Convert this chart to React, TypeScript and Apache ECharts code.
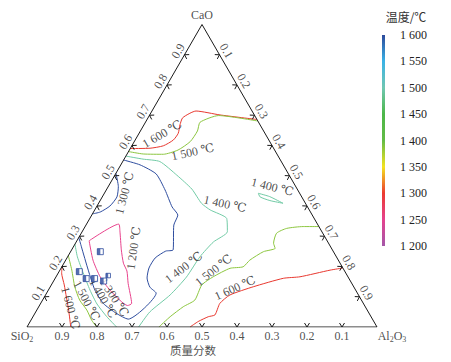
import { useEffect, useRef } from 'react';
import * as echarts from 'echarts';

// Points are [CaO, Al2O3] mass fractions (SiO2 = 1 - CaO - Al2O3)
type TP = [number, number];

const red1600Top: TP[] = [
  [0.59, 0], [0.591, 0.056], [0.599, 0.09], [0.618, 0.109], [0.64, 0.112], [0.668, 0.103],
  [0.692, 0.099], [0.714, 0.126], [0.701, 0.201], [0.686, 0.314],
];
const green1500Top: TP[] = [
  [0.58, 0], [0.572, 0.046], [0.571, 0.104], [0.585, 0.139], [0.613, 0.16], [0.648, 0.163],
  [0.677, 0.156], [0.699, 0.198], [0.681, 0.319],
];
const teal1400Main: TP[] = [
  [0.565, 0], [0.555, 0.054], [0.547, 0.106], [0.502, 0.177], [0.456, 0.243], [0.409, 0.294],
  [0.387, 0.33], [0.359, 0.391], [0.315, 0.415], [0.281, 0.392], [0.232, 0.378], [0.165, 0.373],
  [0.106, 0.356], [0.05, 0.326], [0, 0.319],
];
const blue1300Main: TP[] = [
  [0.552, 0], [0.536, 0.055], [0.506, 0.116], [0.453, 0.168], [0.397, 0.216], [0.37, 0.246],
  [0.337, 0.251], [0.255, 0.29], [0.251, 0.271], [0.228, 0.252], [0.195, 0.251], [0.162, 0.262],
  [0.132, 0.285], [0.112, 0.313], [0.026, 0.276], [0.045, 0.233], [0.078, 0.179], [0.122, 0.133],
  [0.188, 0.081], [0.265, 0.023], [0.296, 0],
];
const blue1300Edge: TP[] = [
  [0.508, 0], [0.464, 0.029], [0.43, 0.042], [0.4, 0.037], [0.38, 0.019], [0.374, 0],
];
const pink1200: TP[] = [
  [0.285, 0.035], [0.34, 0.092], [0.317, 0.107], [0.255, 0.142], [0.211, 0.17], [0.185, 0.193],
  [0.144, 0.217], [0.078, 0.26], [0.071, 0.252], [0.122, 0.176], [0.166, 0.126], [0.221, 0.078],
  [0.285, 0.035],
];
const teal1400Left: TP[] = [
  [0.274, 0], [0.232, 0.028], [0.179, 0.071], [0.122, 0.119], [0.076, 0.162], [0.034, 0.211], [0, 0.256],
];
const green1500Left: TP[] = [
  [0.236, 0], [0.188, 0.034], [0.133, 0.07], [0.089, 0.106], [0.056, 0.143], [0.023, 0.173], [0, 0.199],
];
const red1600Left: TP[] = [
  [0.2, 0], [0.178, 0.01], [0.139, 0.037], [0.099, 0.063], [0.056, 0.091], [0, 0.125],
];
const teal1400Loop: TP[] = [
  [0.442, 0.44], [0.431, 0.478], [0.409, 0.527], [0.418, 0.485], [0.43, 0.451], [0.442, 0.44],
];
const green1500Right: TP[] = [
  [0.332, 0.668], [0.332, 0.623], [0.326, 0.579], [0.31, 0.558], [0.277, 0.566], [0.26, 0.579],
  [0.249, 0.551], [0.221, 0.526], [0.199, 0.518], [0.194, 0.483], [0.166, 0.449], [0.139, 0.43],
  [0.089, 0.435], [0.067, 0.413], [0.034, 0.392], [0, 0.377],
];
const red1600Right: TP[] = [
  [0.195, 0.805], [0.188, 0.772], [0.166, 0.697], [0.161, 0.652], [0.133, 0.58], [0.106, 0.527],
  [0.078, 0.512], [0.04, 0.517], [0.034, 0.501], [0.018, 0.48], [0, 0.466],
];

const contours = [
  { pts: red1600Top, color: '#e8382f' },
  { pts: green1500Top, color: '#8cc63f' },
  { pts: teal1400Main, color: '#72cba6' },
  { pts: blue1300Main, color: '#2e4d9f' },
  { pts: blue1300Edge, color: '#2e4d9f' },
  { pts: pink1200, color: '#e9438d' },
  { pts: teal1400Left, color: '#72cba6' },
  { pts: green1500Left, color: '#8cc63f' },
  { pts: red1600Left, color: '#e8382f' },
  { pts: teal1400Loop, color: '#72cba6' },
  { pts: green1500Right, color: '#8cc63f' },
  { pts: red1600Right, color: '#e8382f' },
];

const labelTexts = ['1 600 ℃', '1 500 ℃', '1 300 ℃', '1 400 ℃', '1 400 ℃', '1 200 ℃', '1 400 ℃', '1 500 ℃', '1 600 ℃', '1 600 ℃', '1 500 ℃', '1 400 ℃', '1 300 ℃'];
const labelAt: TP[] = [
  [0.638, 0.067], [0.579, 0.184], [0.443, 0.057], [0.407, 0.362], [0.463, 0.47], [0.261, 0.174],
  [0.197, 0.349], [0.188, 0.439], [0.129, 0.53], [0.063, 0.093], [0.087, 0.127], [0.095, 0.17], [0.098, 0.2],
];
const labelAngle = [30, 12, 75, -12, -14, 82, 37, 38, 24, -75, -62, -60, -57];

const samples: TP[] = [
  [0.249, 0.085], [0.183, 0.058], [0.16, 0.089], [0.16, 0.113], [0.152, 0.143], [0.17, 0.147],
];
const sampleSize = [6, 6, 6, 6, 6, 4.5];

const edgeTicks = [0.1, 0.2, 0.3, 0.4, 0.5, 0.6, 0.7, 0.8, 0.9];
const tempMin = 1200;
const tempMax = 1600;
const tempStep = 50;
const colorStops = ['#a457a8', '#e5428e', '#ec3b30', '#f3e31f', '#63bb46', '#4cb749', '#70c7b2', '#3ab2e6', '#2d4a9b'];

const PXW = 350;
const PXH = 302.5;
const tern = (c: number, a: number): [number, number] => [a + c / 2, c];
const shift = (p: [number, number], dx: number, dy: number): [number, number] => [p[0] + dx / PXW, p[1] - dy / PXH];

const serif = 'Liberation Serif, DejaVu Serif, serif';
const fmtTemp = (v: number) => String(v).replace(/(\d)(\d{3})$/, '$1 $2');

function chevron(p: [number, number], n: [number, number], t: [number, number]) {
  const L = 4, W = 2.5;
  return {
    coords: [
      shift(p, n[0] * L + t[0] * W, n[1] * L + t[1] * W),
      p,
      shift(p, n[0] * L - t[0] * W, n[1] * L - t[1] * W),
    ],
  };
}

export default function App() {
  const ref = useRef<HTMLDivElement>(null);
  useEffect(() => {
    if (!ref.current) return;
    const chart = echarts.init(ref.current, undefined, { renderer: 'svg' });

    const s3 = Math.sqrt(3) / 2;
    const chevrons: any[] = [];
    edgeTicks.forEach((v) => {
      chevrons.push(chevron(tern(0, 1 - v), [0, -1], [1, 0]));
      chevrons.push(chevron(tern(v, 0), [s3, 0.5], [0.5, -s3]));
      chevrons.push(chevron(tern(1 - v, v), [-s3, 0.5], [0.5, s3]));
    });

    const baseLabel = { show: true, position: 'inside', color: '#222', fontSize: 12, fontFamily: serif, align: 'center', verticalAlign: 'middle' };
    const hidden = { symbolSize: 1, itemStyle: { color: 'rgba(0,0,0,0)' }, silent: true, z: 5 };

    const series: any[] = [];
    series.push({
      type: 'line', data: [tern(0, 0), tern(0, 1), tern(1, 0), tern(0, 0)],
      showSymbol: false, lineStyle: { color: '#1a1a1a', width: 1 }, silent: true, z: 4,
    });
    contours.forEach((ct) => {
      series.push({
        type: 'line', data: ct.pts.map((p) => tern(p[0], p[1])), showSymbol: false, smooth: 0.2,
        lineStyle: { color: ct.color, width: 1 }, silent: true, z: 3,
      });
    });
    series.push({
      type: 'lines', coordinateSystem: 'cartesian2d', polyline: true, data: chevrons,
      lineStyle: { color: '#1a1a1a', width: 1, opacity: 1 }, silent: true, z: 4,
    });
    series.push({
      type: 'scatter', ...hidden,
      data: labelTexts.map((t, i) => ({ name: t, value: tern(labelAt[i][0], labelAt[i][1]), label: { rotate: labelAngle[i] } })),
      label: { ...baseLabel, formatter: '{b}' },
    });
    series.push({
      type: 'scatter', ...hidden,
      data: edgeTicks.map((v) => ({ name: String(v), value: tern(0, 1 - v) })),
      label: { ...baseLabel, formatter: '{b}', offset: [0, 9], lineHeight: 11 },
    });
    series.push({
      type: 'scatter', ...hidden,
      data: edgeTicks.map((v) => ({ name: String(v), value: tern(v, 0) })),
      label: { ...baseLabel, formatter: '{b}', offset: [0, -7.6], rotate: 60 },
    });
    series.push({
      type: 'scatter', ...hidden,
      data: edgeTicks.map((v) => ({ name: String(v), value: tern(1 - v, v) })),
      label: { ...baseLabel, formatter: '{b}', offset: [0, -8], rotate: -60 },
    });
    const rich = { s: { fontSize: 8, fontFamily: serif, color: '#222', padding: [6, 0, 0, 0] } };
    series.push({
      type: 'scatter', ...hidden,
      data: [
        { name: 'CaO', value: tern(1, 0), label: { offset: [0, -10] } },
        { name: 'SiO{s|2}', value: tern(0, 0), label: { offset: [-5, 9] } },
        { name: 'Al{s|2}O{s|3}', value: tern(0, 1), label: { offset: [15, 9] } },
        { name: '质量分数', value: tern(0, 0.5), label: { offset: [-9, 23], fontFamily: 'Noto Sans CJK SC', fontSize: 11.5, lineHeight: 11.5 } },
      ],
      label: { ...baseLabel, formatter: (p: any) => p.name, rich },
    });
    series.push({
      type: 'scatter', data: samples.map((p, i) => ({ value: tern(p[0], p[1]), symbolSize: sampleSize[i] })),
      symbol: 'rect', itemStyle: { color: '#ffffff', borderColor: '#2c4a9c', borderWidth: 1 }, silent: true, z: 6,
    });
    series.push({
      type: 'scatter', data: samples.map((p, i) => ({ value: tern(p[0], p[1]), symbolSize: [sampleSize[i] / 2, sampleSize[i]], symbolOffset: [-sampleSize[i] / 4, 0] })),
      symbol: 'rect', itemStyle: { color: '#2c4a9c' }, silent: true, z: 7,
    });
    series.push({
      type: 'bar', xAxisIndex: 1, yAxisIndex: 1, data: [tempMax], barWidth: '100%', silent: true,
      itemStyle: {
        color: new echarts.graphic.LinearGradient(0, 1, 0, 0, colorStops.map((c, i) => ({ offset: i / (colorStops.length - 1), color: c }))),
      },
    });

    chart.setOption({
      animation: false,
      backgroundColor: '#ffffff',
      grid: [
        { left: 27, top: 24.5, width: PXW, height: PXH },
        { left: 382, top: 35, width: 3, height: 211 },
      ],
      xAxis: [
        { type: 'value', min: 0, max: 1, show: false },
        { type: 'category', gridIndex: 1, data: [''], show: false },
      ],
      yAxis: [
        { type: 'value', min: 0, max: 1, show: false },
        {
          type: 'value', gridIndex: 1, min: tempMin, max: tempMax, interval: tempStep, position: 'right',
          axisLine: { show: false }, axisTick: { show: false }, splitLine: { show: false },
          axisLabel: { margin: 15, color: '#222', fontSize: 12, fontFamily: serif, formatter: fmtTemp },
        },
      ],
      graphic: [
        { type: 'text', x: 406, y: 16, style: { text: '温度/℃', fill: '#333', fontSize: 12, fontFamily: 'Noto Sans CJK SC', align: 'center', verticalAlign: 'middle' } },
      ],
      series,
    });
    return () => chart.dispose();
  }, []);
  return <div ref={ref} style={{ position: 'fixed', left: 0, top: 0, width: 451, height: 362, background: '#fff' }} />;
}
